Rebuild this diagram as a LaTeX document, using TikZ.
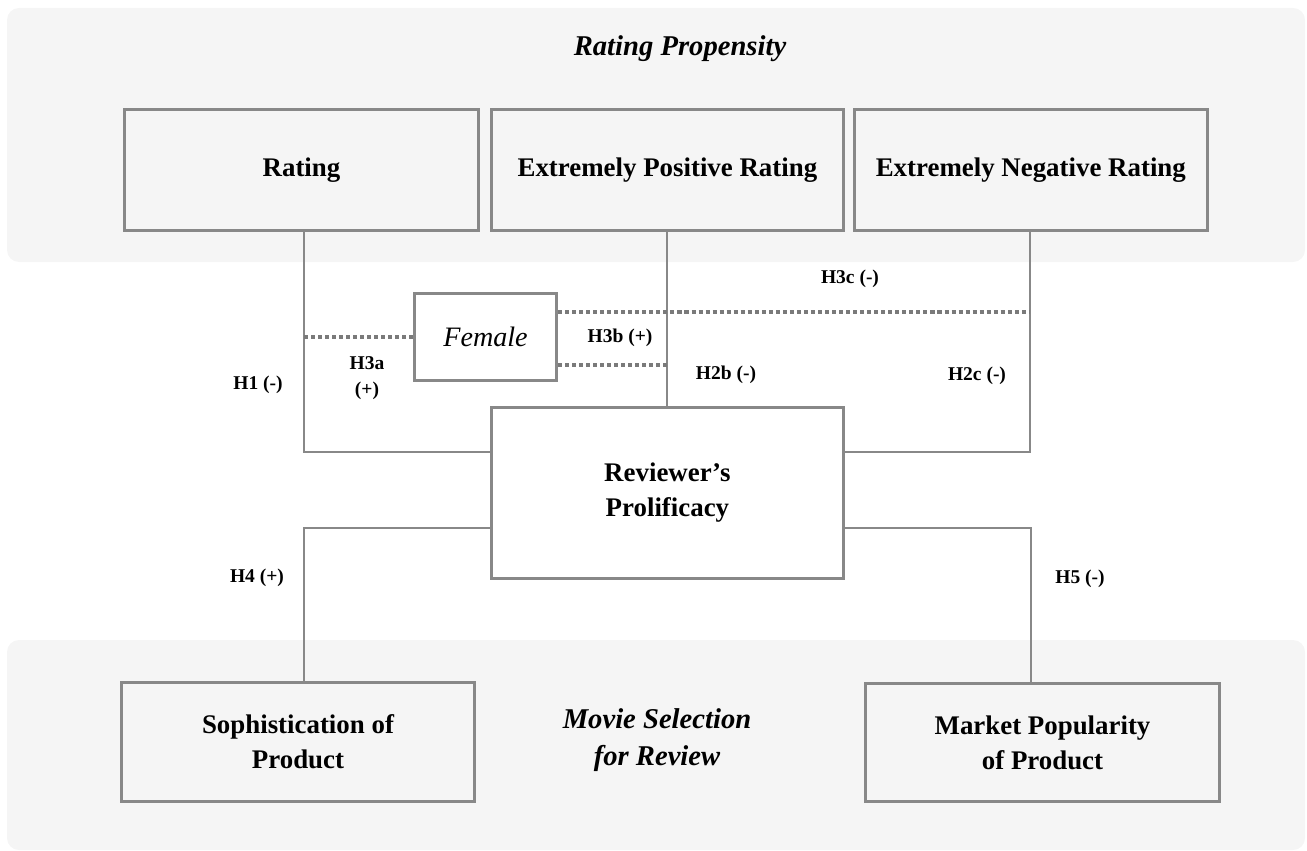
\documentclass[tikz,border=0pt]{standalone}
\usepackage{fontspec}
\setmainfont{Liberation Serif}
\usetikzlibrary{positioning}
\definecolor{bandgray}{HTML}{F5F5F5}
\definecolor{linegray}{HTML}{888888}
\def\boxfont{\fontsize{15.3}{19.8}\selectfont\bfseries}
\def\titlefont{\fontsize{16.3}{21.5}\selectfont\bfseries\itshape}
\def\hypfont{\fontsize{11.1}{14.7}\selectfont\bfseries}
\def\femfont{\fontsize{16}{20}\selectfont\itshape}
\def\myhgap{0.2cm}
\tikzset{
x=0.02cm,y=-0.02cm, % one unit = one pixel of the reference
band/.style={fill=bandgray,rounded corners=0.24cm},
my box/.style={draw=linegray,line width=1.7pt,rectangle,align=center,font=\boxfont,inner sep=1mm},
band box/.style={my box,fill=bandgray,minimum height=2.42cm},
white box/.style={my box,fill=white},
title/.style={font=\titlefont,align=center},
hyp/.style={font=\hypfont,align=center,inner sep=0pt},
link/.style={draw=linegray,line width=1.1pt},
moderate/.style={draw=linegray!90!black,line width=2pt,dash pattern=on 2.3pt off 1.7pt}
}
\begin{document}
\begin{tikzpicture}
\useasboundingbox (0,0) rectangle (1307,851);
% background bands
\fill[band] (7,8) rectangle (1305,262);
\fill[band] (7,640) rectangle (1305,850);
\node[title,anchor=base] (tprop) at (680,56) {Rating Propensity};
\node[title] (tsel) at (657,740) {Movie Selection\\for Review};
% constructs
\node[band box,minimum width=7.08cm] (rat) at (301.5,170) {Rating};
\node[band box,minimum width=7.04cm,right=\myhgap of rat] (pos) {Extremely Positive Rating};
\node[band box,minimum width=7.06cm,right=0.16cm of pos] (neg) {Extremely Negative Rating};
\node[white box,minimum width=7.04cm,minimum height=3.42cm,below=3.48cm of pos] (rev) {Reviewer’s\\Prolificacy};
\node[white box,minimum width=2.84cm,minimum height=1.74cm,font=\femfont] (fem) at (485.5,337) {Female};
\node[band box,minimum width=7.06cm,minimum height=2.38cm] (soph) at (298,742) {Sophistication of\\Product};
\node[band box,minimum width=7.08cm,minimum height=2.36cm] (pop) at (1042.5,742.5) {Market Popularity\\of Product};
% corners of the connectors
\coordinate (c1) at (304,452);
\coordinate (c2) at (1030,452);
\coordinate (c4) at (304,528);
\coordinate (c5) at (1031,528);
\draw[link] (rat.south -| c1) -- (c1) -- (c1 -| rev.west);
\draw[link] (pos.south) -- (rev.north);
\draw[link] (neg.south -| c2) -- (c2) -- (c2 -| rev.east);
\draw[link] (c4 -| rev.west) -- (c4) -- (c4 |- soph.north);
\draw[link] (c5 -| rev.east) -- (c5) -- (c5 |- pop.north);
\draw[moderate] (fem.west) -- (fem.west -| c1);
\draw[moderate] ([yshift=0.5cm]fem.east) -- ([yshift=0.5cm]fem.east -| c2);
\draw[moderate] ([yshift=-0.56cm]fem.east) -- ([yshift=-0.56cm]fem.east -| rev.north);
% hypotheses
\node[hyp] (h1) at (258,385) {H1 (-)};
\node[hyp] (h3a) at (367,378) {H3a\\(+)};
\node[hyp] (h3b) at (620,338) {H3b (+)};
\node[hyp] (h3c) at (850,279) {H3c (-)};
\node[hyp] (h2b) at (726,375) {H2b (-)};
\node[hyp] (h2c) at (977,376) {H2c (-)};
\node[hyp] (h4) at (257,578) {H4 (+)};
\node[hyp] (h5) at (1080,579) {H5 (-)};
\end{tikzpicture}
\end{document}
